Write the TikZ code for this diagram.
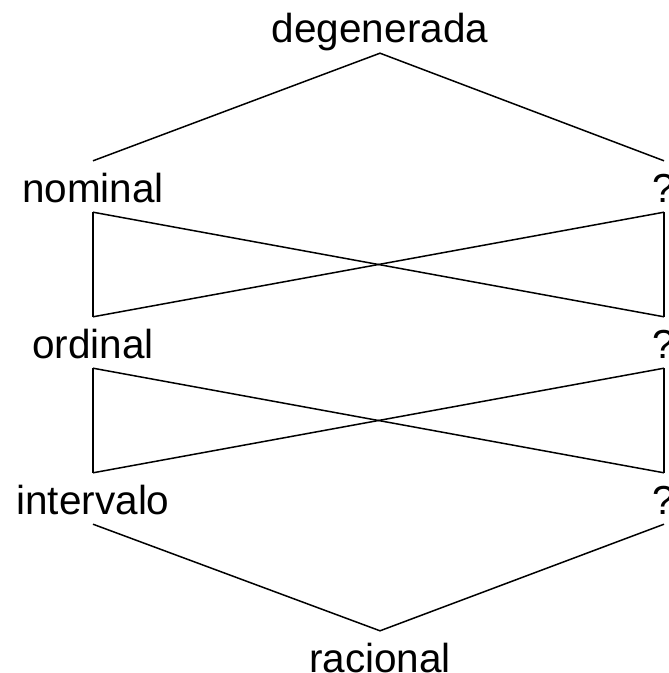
\documentclass[tikz,border=0pt]{standalone}
\usepackage{fontspec}
\setmainfont{Liberation Sans}
\begin{document}
\begin{tikzpicture}[x=1bp,y=-1bp,
  lbl/.style={anchor=base,inner xsep=0pt,inner ysep=10bp,
    text height=31bp,text depth=0pt,
    font=\fontsize{40.5bp}{48bp}\selectfont},
  edge/.style={line width=1.5bp,black}]
\useasboundingbox (0,0) rectangle (669,673);
% labels of the lattice
\node[lbl] (deg) at (380,43) {degenerada};
\node[lbl] (nom) at (93,202) {nominal};
\node[lbl] (q1)  at (664,202) {?};
\node[lbl] (ord) at (93,358) {ordinal};
\node[lbl] (q2)  at (664,358) {?};
\node[lbl] (int) at (93,514) {intervalo};
\node[lbl] (q3)  at (664,514) {?};
\node[lbl] (rac) at (380,672) {racional};
% top wedge
\draw[edge] (nom.north) -- (deg.south) -- (q1.north);
% first crossed box
\draw[edge] (nom.south) -- (ord.north);
\draw[edge] (q1.south) -- (q2.north);
\draw[edge] (nom.south) -- (q2.north);
\draw[edge] (q1.south) -- (ord.north);
% second crossed box
\draw[edge] (ord.south) -- (int.north);
\draw[edge] (q2.south) -- (q3.north);
\draw[edge] (ord.south) -- (q3.north);
\draw[edge] (q2.south) -- (int.north);
% bottom wedge
\draw[edge] (int.south) -- (rac.north) -- (q3.south);
\end{tikzpicture}
\end{document}
